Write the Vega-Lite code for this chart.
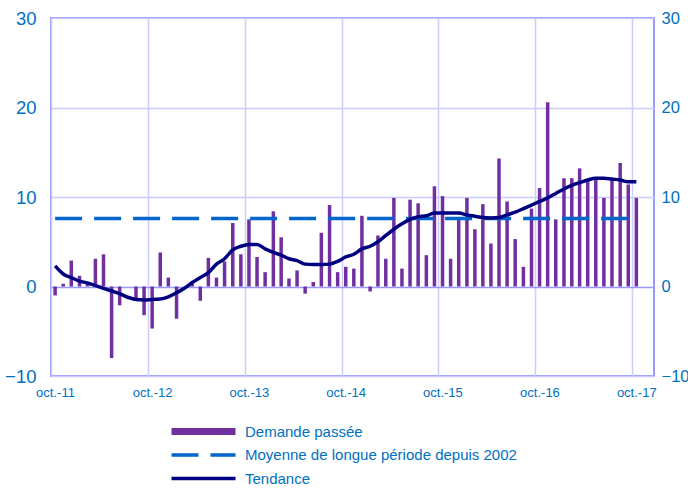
{
  "$schema": "https://vega.github.io/schema/vega-lite/v6.json",
  "width": 603,
  "height": 358,
  "autosize": {"type": "none"},
  "padding": {"left": 51, "top": 18, "right": 34, "bottom": 112},
  "background": "white",
  "config": {
    "font": "Liberation Sans",
    "view": {"stroke": "#9999FF", "strokeWidth": 2}
  },
  "data": {
    "values": [
      {"date": "2011-10-01", "demande": -1.0, "tendance": 2.3, "moyenne": 7.6},
      {"date": "2011-11-01", "demande": 0.3, "tendance": 1.4, "moyenne": 7.6},
      {"date": "2011-12-01", "demande": 2.9, "tendance": 1.0, "moyenne": 7.6},
      {"date": "2012-01-01", "demande": 1.2, "tendance": 0.6, "moyenne": 7.6},
      {"date": "2012-02-01", "demande": 0.3, "tendance": 0.4, "moyenne": 7.6},
      {"date": "2012-03-01", "demande": 3.1, "tendance": 0.1, "moyenne": 7.6},
      {"date": "2012-04-01", "demande": 3.6, "tendance": -0.2, "moyenne": 7.6},
      {"date": "2012-05-01", "demande": -8.0, "tendance": -0.5, "moyenne": 7.6},
      {"date": "2012-06-01", "demande": -2.1, "tendance": -0.8, "moyenne": 7.6},
      {"date": "2012-07-01", "demande": 0.0, "tendance": -1.2, "moyenne": 7.6},
      {"date": "2012-08-01", "demande": -1.3, "tendance": -1.45, "moyenne": 7.6},
      {"date": "2012-09-01", "demande": -3.2, "tendance": -1.5, "moyenne": 7.6},
      {"date": "2012-10-01", "demande": -4.7, "tendance": -1.45, "moyenne": 7.6},
      {"date": "2012-11-01", "demande": 3.8, "tendance": -1.4, "moyenne": 7.6},
      {"date": "2012-12-01", "demande": 1.0, "tendance": -1.15, "moyenne": 7.6},
      {"date": "2013-01-01", "demande": -3.6, "tendance": -0.7, "moyenne": 7.6},
      {"date": "2013-02-01", "demande": 0.0, "tendance": -0.2, "moyenne": 7.6},
      {"date": "2013-03-01", "demande": 0.3, "tendance": 0.45, "moyenne": 7.6},
      {"date": "2013-04-01", "demande": -1.6, "tendance": 1.0, "moyenne": 7.6},
      {"date": "2013-05-01", "demande": 3.2, "tendance": 1.55, "moyenne": 7.6},
      {"date": "2013-06-01", "demande": 1.0, "tendance": 2.5, "moyenne": 7.6},
      {"date": "2013-07-01", "demande": 2.8, "tendance": 3.1, "moyenne": 7.6},
      {"date": "2013-08-01", "demande": 7.1, "tendance": 4.1, "moyenne": 7.6},
      {"date": "2013-09-01", "demande": 3.6, "tendance": 4.5, "moyenne": 7.6},
      {"date": "2013-10-01", "demande": 7.5, "tendance": 4.7, "moyenne": 7.6},
      {"date": "2013-11-01", "demande": 3.3, "tendance": 4.7, "moyenne": 7.6},
      {"date": "2013-12-01", "demande": 1.6, "tendance": 4.2, "moyenne": 7.6},
      {"date": "2014-01-01", "demande": 8.4, "tendance": 3.8, "moyenne": 7.6},
      {"date": "2014-02-01", "demande": 5.5, "tendance": 3.5, "moyenne": 7.6},
      {"date": "2014-03-01", "demande": 0.9, "tendance": 3.1, "moyenne": 7.6},
      {"date": "2014-04-01", "demande": 1.8, "tendance": 2.9, "moyenne": 7.6},
      {"date": "2014-05-01", "demande": -0.8, "tendance": 2.5, "moyenne": 7.6},
      {"date": "2014-06-01", "demande": 0.5, "tendance": 2.45, "moyenne": 7.6},
      {"date": "2014-07-01", "demande": 6.0, "tendance": 2.45, "moyenne": 7.6},
      {"date": "2014-08-01", "demande": 9.1, "tendance": 2.5, "moyenne": 7.6},
      {"date": "2014-09-01", "demande": 1.6, "tendance": 2.8, "moyenne": 7.6},
      {"date": "2014-10-01", "demande": 2.2, "tendance": 3.3, "moyenne": 7.6},
      {"date": "2014-11-01", "demande": 2.0, "tendance": 3.6, "moyenne": 7.6},
      {"date": "2014-12-01", "demande": 7.9, "tendance": 4.2, "moyenne": 7.6},
      {"date": "2015-01-01", "demande": -0.55, "tendance": 4.5, "moyenne": 7.6},
      {"date": "2015-02-01", "demande": 5.7, "tendance": 5.0, "moyenne": 7.6},
      {"date": "2015-03-01", "demande": 3.1, "tendance": 5.7, "moyenne": 7.6},
      {"date": "2015-04-01", "demande": 9.9, "tendance": 6.4, "moyenne": 7.6},
      {"date": "2015-05-01", "demande": 2.0, "tendance": 7.0, "moyenne": 7.6},
      {"date": "2015-06-01", "demande": 9.7, "tendance": 7.5, "moyenne": 7.6},
      {"date": "2015-07-01", "demande": 9.3, "tendance": 7.8, "moyenne": 7.6},
      {"date": "2015-08-01", "demande": 3.5, "tendance": 7.9, "moyenne": 7.6},
      {"date": "2015-09-01", "demande": 11.2, "tendance": 8.2, "moyenne": 7.6},
      {"date": "2015-10-01", "demande": 10.1, "tendance": 8.2, "moyenne": 7.6},
      {"date": "2015-11-01", "demande": 3.1, "tendance": 8.2, "moyenne": 7.6},
      {"date": "2015-12-01", "demande": 7.5, "tendance": 8.2, "moyenne": 7.6},
      {"date": "2016-01-01", "demande": 9.9, "tendance": 8.0, "moyenne": 7.6},
      {"date": "2016-02-01", "demande": 6.4, "tendance": 7.85, "moyenne": 7.6},
      {"date": "2016-03-01", "demande": 9.2, "tendance": 7.7, "moyenne": 7.6},
      {"date": "2016-04-01", "demande": 4.8, "tendance": 7.65, "moyenne": 7.6},
      {"date": "2016-05-01", "demande": 14.3, "tendance": 7.7, "moyenne": 7.6},
      {"date": "2016-06-01", "demande": 9.5, "tendance": 8.0, "moyenne": 7.6},
      {"date": "2016-07-01", "demande": 5.3, "tendance": 8.3, "moyenne": 7.6},
      {"date": "2016-08-01", "demande": 2.2, "tendance": 8.7, "moyenne": 7.6},
      {"date": "2016-09-01", "demande": 8.7, "tendance": 9.1, "moyenne": 7.6},
      {"date": "2016-10-01", "demande": 11.0, "tendance": 9.5, "moyenne": 7.6},
      {"date": "2016-11-01", "demande": 20.6, "tendance": 9.9, "moyenne": 7.6},
      {"date": "2016-12-01", "demande": 7.5, "tendance": 10.4, "moyenne": 7.6},
      {"date": "2017-01-01", "demande": 12.1, "tendance": 10.9, "moyenne": 7.6},
      {"date": "2017-02-01", "demande": 12.1, "tendance": 11.3, "moyenne": 7.6},
      {"date": "2017-03-01", "demande": 13.2, "tendance": 11.6, "moyenne": 7.6},
      {"date": "2017-04-01", "demande": 11.9, "tendance": 11.9, "moyenne": 7.6},
      {"date": "2017-05-01", "demande": 12.1, "tendance": 12.1, "moyenne": 7.6},
      {"date": "2017-06-01", "demande": 9.9, "tendance": 12.1, "moyenne": 7.6},
      {"date": "2017-07-01", "demande": 12.0, "tendance": 12.0, "moyenne": 7.6},
      {"date": "2017-08-01", "demande": 13.8, "tendance": 11.9, "moyenne": 7.6},
      {"date": "2017-09-01", "demande": 11.4, "tendance": 11.7, "moyenne": 7.6},
      {"date": "2017-10-01", "demande": 9.9, "tendance": 11.7, "moyenne": 7.6}
    ]
  },
  "encoding": {
    "x": {
      "field": "date",
      "type": "temporal",
      "timeUnit": "utcyearmonth",
      "bandPosition": 0.5,
      "title": null,
      "scale": {
        "type": "utc",
        "domain": [
          {"year": 2011, "month": 10, "date": 1, "utc": true},
          {"year": 2017, "month": 12, "date": 22, "utc": true}
        ]
      },
      "axis": {
        "values": [
          {"year": 2011, "month": 10, "date": 1, "utc": true},
          {"year": 2012, "month": 10, "date": 1, "utc": true},
          {"year": 2013, "month": 10, "date": 1, "utc": true},
          {"year": 2014, "month": 10, "date": 1, "utc": true},
          {"year": 2015, "month": 10, "date": 1, "utc": true},
          {"year": 2016, "month": 10, "date": 1, "utc": true},
          {"year": 2017, "month": 10, "date": 1, "utc": true}
        ],
        "labelExpr": "'oct.-' + utcFormat(datum.value, '%y')",
        "grid": true,
        "gridColor": "#CCCCFF",
        "gridWidth": 1.5,
        "domain": false,
        "ticks": false,
        "labelFontSize": 13,
        "labelColor": "#0070C0",
        "labelPadding": 10,
        "labelOffset": 4,
        "labelFlush": false,
        "labelOverlap": false
      }
    }
  },
  "layer": [
    {
      "mark": {"type": "bar", "width": 3.5},
      "encoding": {
        "y": {
          "field": "demande",
          "type": "quantitative",
          "title": null,
          "scale": {"domain": [-10, 30], "nice": false, "zero": false},
          "axis": {
            "orient": "left",
            "values": [-10, 0, 10, 20, 30],
            "grid": true,
            "gridColor": {"condition": {"test": "datum.value === 0", "value": "#9999FF"}, "value": "#CCCCFF"},
            "gridWidth": 1.5,
            "domain": false,
            "ticks": false,
            "labelFontSize": 18.5,
            "labelColor": "#0070C0",
            "labelPadding": 15,
            "labelFlush": false
          }
        },
        "color": {
          "datum": "Demande passée",
          "scale": {
            "domain": ["Demande passée", "Moyenne de longue période depuis 2002", "Tendance"],
            "range": ["#7030A0", "#0066CC", "#000080"]
          },
          "legend": {
            "orient": "none",
            "legendX": 121,
            "legendY": 406,
            "title": null,
            "symbolType": "M-4,0H4",
            "symbolSize": 256,
            "symbolStrokeWidth": 3.5,
            "symbolOffset": 24,
            "labelFontSize": 15,
            "labelColor": "#0070C0",
            "labelOffset": 34,
            "labelLimit": 400,
            "gridAlign": "all",
            "rowPadding": 1.5,
            "padding": 0,
            "encode": {
              "symbols": {
                "update": {
                  "stroke": {"scale": "color", "field": "value"},
                  "fill": {"value": "transparent"},
                  "strokeWidth": {"signal": "datum.value === 'Demande passée' ? 7 : 3.5"},
                  "strokeDash": {"signal": "datum.value === 'Moyenne de longue période depuis 2002' ? [27, 12] : [1, 0]"}
                }
              }
            }
          }
        }
      }
    },
    {
      "mark": {"type": "line", "strokeWidth": 3.5, "strokeDash": [27, 12]},
      "encoding": {
        "y": {"field": "moyenne", "type": "quantitative", "axis": null},
        "color": {"datum": "Moyenne de longue période depuis 2002"}
      }
    },
    {
      "mark": {"type": "line", "strokeWidth": 3.5, "interpolate": "monotone"},
      "encoding": {
        "y": {
          "field": "tendance",
          "type": "quantitative",
          "axis": {
            "orient": "right",
            "values": [-10, 0, 10, 20, 30],
            "grid": false,
            "domain": false,
            "ticks": false,
            "labelFontSize": 16.5,
            "labelColor": "#0070C0",
            "labelPadding": 7,
            "labelFlush": false
          }
        },
        "color": {"datum": "Tendance"}
      }
    }
  ],
  "resolve": {"scale": {"y": "shared"}, "axis": {"y": "independent"}}
}
